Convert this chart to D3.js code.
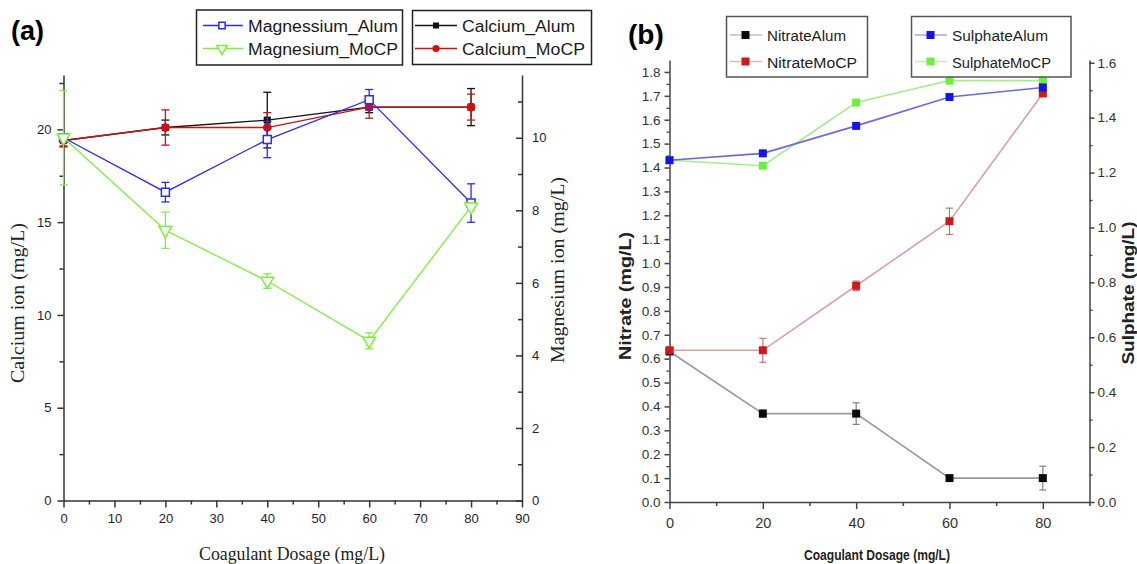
<!DOCTYPE html>
<html>
<head>
<meta charset="utf-8">
<script src="https://cdn.jsdelivr.net/npm/d3@7"></script>
<style>
  html, body { margin: 0; padding: 0; background: #fff; }
  svg { display: block; }
</style>
</head>
<body>
<svg id="chart" width="1137" height="564"></svg>
<script>
// Coagulant dosage (mg/L), shared by both panels
const dosage = [0, 20, 40, 60, 80];

// Panel (a): calcium (left axis) and magnesium (right axis), mg/L
const calciumAlum = [19.4, 20.1, 20.5, 21.2, 21.2];
const calciumAlumErr = [0.3, 0.4, 1.5, 0.3, 1.0];
const calciumMoCP = [19.4, 20.1, 20.1, 21.2, 21.2];
const calciumMoCPErr = [0.35, 0.95, 0.8, 0.6, 0.7];
const magnesiumAlum = [10.0, 8.5, 9.95, 11.05, 8.2];
const magnesiumAlumErr = [0.1, 0.27, 0.5, 0.28, 0.53];
const magnesiumMoCP = [10.0, 7.45, 6.05, 4.4, 8.1];
const magnesiumMoCPErr = [1.3, 0.5, 0.2, 0.22, 0.1];

// Panel (b): nitrate (left axis) and sulphate (right axis), mg/L
const nitrateAlum = [0.63, 0.37, 0.37, 0.10, 0.10];
const nitrateAlumErr = [0.01, 0.015, 0.045, 0.01, 0.05];
const nitrateMoCP = [0.635, 0.635, 0.905, 1.175, 1.71];
const nitrateMoCPErr = [0.01, 0.05, 0.02, 0.055, 0.01];
const sulphateAlum = [1.245, 1.27, 1.37, 1.475, 1.51];
const sulphateMoCP = [1.245, 1.225, 1.455, 1.535, 1.535];

// Tick values
const ticksA_x = [0, 10, 20, 30, 40, 50, 60, 70, 80, 90];
const ticksA_yL = [0, 5, 10, 15, 20];
const ticksA_yR = [0, 2, 4, 6, 8, 10];
const ticksB_x = [0, 20, 40, 60, 80];
const ticksB_yL = [0, 0.1, 0.2, 0.3, 0.4, 0.5, 0.6, 0.7, 0.8, 0.9, 1.0, 1.1, 1.2, 1.3, 1.4, 1.5, 1.6, 1.7, 1.8];
const ticksB_yR = [0, 0.2, 0.4, 0.6, 0.8, 1.0, 1.2, 1.4, 1.6];

const svg = d3.select("#chart");

// ---------- helpers ----------
function styleAxis(g, color, width) {
  g.selectAll("path.domain").attr("stroke", color).attr("stroke-width", width);
  g.selectAll(".tick line").attr("stroke", color).attr("stroke-width", width);
}

function drawSeries(g, x, y, xs, ys, errs, s) {
  const pts = xs.map((d, i) => ({ x: d, y: ys[i], e: errs ? errs[i] : 0 }));
  g.append("path")
    .datum(pts)
    .attr("fill", "none")
    .attr("stroke", s.line)
    .attr("stroke-width", s.lineWidth || 1.3)
    .attr("d", d3.line().x(d => x(d.x)).y(d => y(d.y)));
  if (errs) {
    const eb = g.append("g").attr("stroke", s.err || s.line).attr("stroke-width", s.errWidth || 1.3);
    pts.forEach(p => {
      const cx = x(p.x), y1 = y(p.y + p.e), y2 = y(p.y - p.e), c = s.cap || 4;
      eb.append("line").attr("x1", cx).attr("x2", cx).attr("y1", y1).attr("y2", y2);
      eb.append("line").attr("x1", cx - c).attr("x2", cx + c).attr("y1", y1).attr("y2", y1);
      eb.append("line").attr("x1", cx - c).attr("x2", cx + c).attr("y1", y2).attr("y2", y2);
    });
  }
  g.selectAll(null).data(pts).enter().append("path")
    .attr("transform", d => `translate(${x(d.x)},${y(d.y)})${s.rotate ? " rotate(180)" : ""}`)
    .attr("d", d3.symbol().type(s.symbol).size(s.size))
    .attr("fill", s.fill)
    .attr("stroke", s.stroke || "none")
    .attr("stroke-width", s.strokeWidth || 1.4);
}

function legendEntry(g, x0, x1, sx, ty, s, label, font, len, lineColor) {
  g.append("line").attr("x1", x0).attr("x2", x1).attr("y1", ty).attr("y2", ty)
    .attr("stroke", lineColor).attr("stroke-width", 1.4);
  g.append("path")
    .attr("transform", `translate(${sx},${ty})${s.rotate ? " rotate(180)" : ""}`)
    .attr("d", d3.symbol().type(s.symbol).size(s.legendSize || s.size))
    .attr("fill", s.fill)
    .attr("stroke", s.stroke || "none")
    .attr("stroke-width", s.strokeWidth || 1.4);
  g.append("text").attr("x", x1 + 5).attr("y", ty + 6)
    .attr("font-family", font.family).attr("font-size", font.size)
    .attr("fill", font.color)
    .attr("textLength", len).attr("lengthAdjust", "spacingAndGlyphs")
    .text(label);
}

// ---------- Panel (a) ----------
const pa = svg.append("g");
const xa = d3.scaleLinear().domain([0, 90]).range([63.5, 522]);
const yaL = d3.scaleLinear().domain([0, 22.93]).range([500.5, 75]);
const yaR = d3.scaleLinear().domain([0, 11.73]).range([500.5, 75]);
const axisColA = "#333";
const tickFontA = { family: "Liberation Sans, Arial, sans-serif", size: 13, color: "#1e1e2e" };

// bottom axis
const gxa = pa.append("g").attr("transform", "translate(0,500.5)")
  .call(d3.axisBottom(xa).tickValues(ticksA_x).tickSize(7).tickSizeOuter(0).tickPadding(6).tickFormat(d3.format("d")));
pa.append("g").attr("transform", "translate(0,500.5)")
  .call(d3.axisBottom(xa).tickValues(d3.range(5, 90, 10)).tickSize(4).tickSizeOuter(0).tickFormat(""))
  .call(g => g.select(".domain").remove()).call(g => styleAxis(g, axisColA, 1.5));
styleAxis(gxa, axisColA, 1.5);

// left axis
const gyaL = pa.append("g").attr("transform", "translate(63.5,0)")
  .call(d3.axisLeft(yaL).tickValues(ticksA_yL).tickSize(6).tickSizeOuter(0).tickPadding(6).tickFormat(d3.format("d")));
pa.append("g").attr("transform", "translate(63.5,0)")
  .call(d3.axisLeft(yaL).tickValues([2.5, 7.5, 12.5, 17.5, 22.5]).tickSize(4).tickSizeOuter(0).tickFormat(""))
  .call(g => g.select(".domain").remove()).call(g => styleAxis(g, axisColA, 1.5));
styleAxis(gyaL, axisColA, 1.5);

// right axis (ticks point into the plot)
const gyaR = pa.append("g").attr("transform", "translate(522,0)")
  .call(d3.axisRight(yaR).tickValues(ticksA_yR).tickSize(-6).tickSizeOuter(0).tickPadding(10).tickFormat(d3.format("d")));
pa.append("g").attr("transform", "translate(522,0)")
  .call(d3.axisRight(yaR).tickValues([1, 3, 5, 7, 9, 11]).tickSize(-4).tickSizeOuter(0).tickFormat(""))
  .call(g => g.select(".domain").remove()).call(g => styleAxis(g, axisColA, 1.5));
styleAxis(gyaR, axisColA, 1.5);

[gxa, gyaL, gyaR].forEach(g => g.selectAll("text")
  .attr("font-family", tickFontA.family).attr("font-size", tickFontA.size).attr("fill", tickFontA.color));

// axis titles
const serif = "Liberation Serif, Times New Roman, serif";
pa.append("text").attr("x", 292).attr("y", 560).attr("text-anchor", "middle")
  .attr("font-family", serif).attr("font-size", 19).attr("fill", "#222")
  .attr("textLength", 186).attr("lengthAdjust", "spacingAndGlyphs")
  .text("Coagulant Dosage (mg/L)");
pa.append("text").attr("transform", "translate(24,303) rotate(-90)").attr("text-anchor", "middle")
  .attr("font-family", serif).attr("font-size", 19).attr("fill", "#222")
  .attr("textLength", 160).attr("lengthAdjust", "spacingAndGlyphs")
  .text("Calcium ion (mg/L)");
pa.append("text").attr("transform", "translate(564,270) rotate(-90)").attr("text-anchor", "middle")
  .attr("font-family", serif).attr("font-size", 19).attr("fill", "#222")
  .attr("textLength", 186).attr("lengthAdjust", "spacingAndGlyphs")
  .text("Magnesium ion (mg/L)");

// series styles for panel (a)
const sCaAlum = { line: "#111", symbol: d3.symbolSquare, size: 50, fill: "#111" };
const sCaMoCP = { line: "#d01010", symbol: d3.symbolCircle, size: 60, fill: "#d01010" };
const sMgAlum = { line: "#2a2aff", symbol: d3.symbolSquare, size: 64, fill: "#fff", stroke: "#2a2aff", strokeWidth: 1.5 };
const sMgMoCP = { line: "#7cf03a", symbol: d3.symbolTriangle, size: 70, fill: "#fff", stroke: "#7cf03a", strokeWidth: 1.5, rotate: true };

drawSeries(pa, xa, yaL, dosage, calciumAlum, calciumAlumErr, sCaAlum);
drawSeries(pa, xa, yaL, dosage, calciumMoCP, calciumMoCPErr, sCaMoCP);
drawSeries(pa, xa, yaR, dosage, magnesiumAlum, magnesiumAlumErr, sMgAlum);
drawSeries(pa, xa, yaR, dosage, magnesiumMoCP, magnesiumMoCPErr, sMgMoCP);

// legends (a)
const legFontA = { family: "Liberation Sans, Arial, sans-serif", size: 16, color: "#1a1a1a" };
const la = pa.append("g");
la.append("rect").attr("x", 196.5).attr("y", 10).attr("width", 206).attr("height", 55)
  .attr("fill", "#fff").attr("stroke", "#222").attr("stroke-width", 1.5);
la.append("rect").attr("x", 412.5).attr("y", 10.5).attr("width", 179).attr("height", 54)
  .attr("fill", "#fff").attr("stroke", "#222").attr("stroke-width", 1.5);
legendEntry(la, 203, 243, 222, 25.5, { ...sMgAlum, legendSize: 40 }, "Magnessium_Alum", legFontA, 150, sMgAlum.line);
legendEntry(la, 203, 243, 222, 48.5, { ...sMgMoCP, legendSize: 50 }, "Magnesium_MoCP", legFontA, 150, sMgMoCP.line);
legendEntry(la, 415, 457, 436, 25.5, { ...sCaAlum, legendSize: 36 }, "Calcium_Alum", legFontA, 113, sCaAlum.line);
legendEntry(la, 415, 457, 436, 48.5, { ...sCaMoCP, legendSize: 40 }, "Calcium_MoCP", legFontA, 123, sCaMoCP.line);

pa.append("text").attr("x", 11).attr("y", 40)
  .attr("font-family", "Liberation Sans, Arial, sans-serif").attr("font-weight", "bold")
  .attr("font-size", 27).attr("fill", "#000").text("(a)");

// ---------- Panel (b) ----------
const pb = svg.append("g");
const xb = d3.scaleLinear().domain([0, 90]).range([669.5, 1089.5]);
const ybL = d3.scaleLinear().domain([0, 1.85]).range([502, 60]);
const ybR = d3.scaleLinear().domain([0, 1.61]).range([502, 60]);
const axisColB = "#444";
const tickFontB = { family: "Liberation Sans, Arial, sans-serif", size: 13.5, color: "#333" };

const gxb = pb.append("g").attr("transform", "translate(0,502)")
  .call(d3.axisBottom(xb).tickValues(ticksB_x).tickSize(7).tickSizeOuter(0).tickPadding(9).tickFormat(d3.format("d")));
pb.append("g").attr("transform", "translate(0,502)")
  .call(d3.axisBottom(xb).tickValues([10, 30, 50, 70, 90]).tickSize(4).tickSizeOuter(0).tickFormat(""))
  .call(g => g.select(".domain").remove()).call(g => styleAxis(g, axisColB, 1.5));
styleAxis(gxb, axisColB, 1.5);

const gybL = pb.append("g").attr("transform", "translate(669.5,0)")
  .call(d3.axisLeft(ybL).tickValues(ticksB_yL).tickSize(5).tickSizeOuter(0).tickPadding(4).tickFormat(d3.format(".1f")));
pb.append("g").attr("transform", "translate(669.5,0)")
  .call(d3.axisLeft(ybL).tickValues(d3.range(0.05, 1.85, 0.1)).tickSize(3).tickSizeOuter(0).tickFormat(""))
  .call(g => g.select(".domain").remove()).call(g => styleAxis(g, axisColB, 1.3));
styleAxis(gybL, axisColB, 1.5);

const gybR = pb.append("g").attr("transform", "translate(1089.5,0)")
  .call(d3.axisRight(ybR).tickValues(ticksB_yR).tickSize(5).tickSizeOuter(0).tickPadding(3).tickFormat(d3.format(".1f")));
pb.append("g").attr("transform", "translate(1089.5,0)")
  .call(d3.axisRight(ybR).tickValues(d3.range(0.1, 1.6, 0.2)).tickSize(3).tickSizeOuter(0).tickFormat(""))
  .call(g => g.select(".domain").remove()).call(g => styleAxis(g, axisColB, 1.3));
styleAxis(gybR, axisColB, 1.5);

[gxb, gybL, gybR].forEach(g => g.selectAll("text")
  .attr("font-family", tickFontB.family).attr("font-size", tickFontB.size).attr("fill", tickFontB.color));
gxb.selectAll("text").attr("font-size", 14.5);

const sansB = "Liberation Sans, Arial, sans-serif";
pb.append("text").attr("x", 877).attr("y", 560).attr("text-anchor", "middle")
  .attr("font-family", sansB).attr("font-weight", "bold").attr("font-size", 14).attr("fill", "#222")
  .attr("textLength", 146).attr("lengthAdjust", "spacingAndGlyphs")
  .text("Coagulant Dosage (mg/L)");
pb.append("text").attr("transform", "translate(631,296) rotate(-90)").attr("text-anchor", "middle")
  .attr("font-family", sansB).attr("font-weight", "bold").attr("font-size", 17).attr("fill", "#222")
  .attr("textLength", 128).attr("lengthAdjust", "spacingAndGlyphs")
  .text("Nitrate (mg/L)");
pb.append("text").attr("transform", "translate(1134,293) rotate(-90)").attr("text-anchor", "middle")
  .attr("font-family", sansB).attr("font-weight", "bold").attr("font-size", 17).attr("fill", "#222")
  .attr("textLength", 143).attr("lengthAdjust", "spacingAndGlyphs")
  .text("Sulphate (mg/L)");

// series styles for panel (b)
const sNAlum = { line: "#9a9a9a", err: "#777", symbol: d3.symbolSquare, size: 64, fill: "#0a0a0a", lineWidth: 1.6, errWidth: 1.1, cap: 3.5 };
const sNMoCP = { line: "#dca0a0", err: "#c86a6a", symbol: d3.symbolSquare, size: 64, fill: "#cc1a1a", lineWidth: 1.6, errWidth: 1.1, cap: 3.5 };
const sSAlum = { line: "#6a6ae0", symbol: d3.symbolSquare, size: 64, fill: "#1414e6", lineWidth: 1.6 };
const sSMoCP = { line: "#a6ec8c", symbol: d3.symbolSquare, size: 64, fill: "#6cf03c", lineWidth: 1.6 };

drawSeries(pb, xb, ybL, dosage, nitrateAlum, nitrateAlumErr, sNAlum);
drawSeries(pb, xb, ybL, dosage, nitrateMoCP, nitrateMoCPErr, sNMoCP);
drawSeries(pb, xb, ybR, dosage, sulphateMoCP, null, sSMoCP);
drawSeries(pb, xb, ybR, dosage, sulphateAlum, null, sSAlum);

// legends (b)
const legFontB = { family: "Liberation Sans, Arial, sans-serif", size: 15.5, color: "#222" };
const lb = pb.append("g");
lb.append("rect").attr("x", 726.5).attr("y", 16.5).attr("width", 141).attr("height", 60.5)
  .attr("fill", "#fff").attr("stroke", "#555").attr("stroke-width", 1.5);
lb.append("rect").attr("x", 911.5).attr("y", 16.5).attr("width", 159.5).attr("height", 60.5)
  .attr("fill", "#fff").attr("stroke", "#555").attr("stroke-width", 1.5);
legendEntry(lb, 730, 762, 745.5, 35, sNAlum, "NitrateAlum", legFontB, 79, "#bbb");
legendEntry(lb, 730, 762, 745.5, 61.5, sNMoCP, "NitrateMoCP", legFontB, 90, "#e6b4b4");
legendEntry(lb, 915, 947, 930.5, 35, sSAlum, "SulphateAlum", legFontB, 96, "#a0a0ee");
legendEntry(lb, 915, 947, 930.5, 61.5, sSMoCP, "SulphateMoCP", legFontB, 99, "#bff0a8");

pb.append("text").attr("x", 628).attr("y", 44)
  .attr("font-family", "Liberation Sans, Arial, sans-serif").attr("font-weight", "bold")
  .attr("font-size", 28).attr("fill", "#000").text("(b)");
</script>
</body>
</html>
